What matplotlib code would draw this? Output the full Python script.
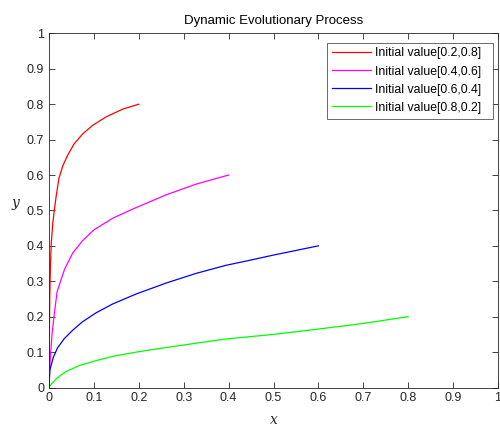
import matplotlib
matplotlib.use("Agg")
import matplotlib.pyplot as plt

# Curves
red_x = [0, 0.0008, 0.0015, 0.003, 0.0052, 0.0085, 0.0118, 0.0156, 0.022, 0.0305,
         0.0415, 0.056, 0.075, 0.097, 0.127, 0.164, 0.2]
red_y = [0, 0.12, 0.24, 0.34, 0.41, 0.465, 0.50, 0.537, 0.590, 0.625,
         0.656, 0.688, 0.716, 0.740, 0.764, 0.786, 0.80]

mag_x = [0, 0.0007, 0.003, 0.0067, 0.012, 0.018, 0.027, 0.035, 0.053, 0.075,
         0.1, 0.142, 0.194, 0.261, 0.327, 0.4]
mag_y = [0, 0.03, 0.085, 0.15, 0.21, 0.27, 0.305, 0.335, 0.38, 0.415,
         0.445, 0.478, 0.508, 0.544, 0.574, 0.60]

blue_x = [0, 0.002, 0.0096, 0.019, 0.034, 0.053, 0.075, 0.105, 0.142, 0.194,
          0.261, 0.327, 0.394, 0.45, 0.5, 0.55, 0.6]
blue_y = [0, 0.05, 0.085, 0.112, 0.138, 0.162, 0.186, 0.211, 0.236, 0.264,
          0.295, 0.322, 0.345, 0.36, 0.374, 0.387, 0.40]

green_x = [0, 0.0067, 0.019, 0.038, 0.067, 0.105, 0.142, 0.194, 0.261, 0.327,
           0.394, 0.5, 0.6, 0.7, 0.8]
green_y = [0, 0.012, 0.028, 0.045, 0.062, 0.076, 0.088, 0.100, 0.113, 0.125,
           0.137, 0.150, 0.165, 0.181, 0.20]

labels = ["Initial value[0.2,0.8]", "Initial value[0.4,0.6]",
          "Initial value[0.6,0.4]", "Initial value[0.8,0.2]"]
colors = ["#ff0000", "#ff00ff", "#0000ff", "#00ff00"]

ticks = [0, 0.1, 0.2, 0.3, 0.4, 0.5, 0.6, 0.7, 0.8, 0.9, 1]
tick_labels = ["0", "0.1", "0.2", "0.3", "0.4", "0.5", "0.6", "0.7", "0.8", "0.9", "1"]

plt.rcParams['font.family'] = ['Liberation Sans', 'DejaVu Sans']

fig = plt.figure(figsize=(5.0, 4.28), dpi=100)
ax = fig.add_axes([0.098, 0.0946, 0.898, 0.8275])

for xs, ys, c, lab in zip([red_x, mag_x, blue_x, green_x],
                          [red_y, mag_y, blue_y, green_y], colors, labels):
    ax.plot(xs, ys, color=c, lw=0.9, label=lab, solid_joinstyle='round')

ax.set_xlim(0, 1)
ax.set_ylim(0, 1)
ax.set_xticks(ticks)
ax.set_xticklabels(tick_labels)
ax.set_yticks(ticks)
ax.set_yticklabels(tick_labels)
ax.tick_params(direction='in', length=4, width=0.6, colors='#262626',
               labelsize=9, top=True, right=True)
for s in ax.spines.values():
    s.set_linewidth(0.6)
    s.set_color('#262626')

ax.set_title("Dynamic Evolutionary Process", fontsize=9.5, color='black', pad=7)
ax.set_xlabel("x", fontsize=10, family='DejaVu Serif', style='italic', color='#262626', labelpad=6)
ax.set_ylabel("y", fontsize=10, family='DejaVu Serif', style='italic', color='#262626',
              rotation=0, labelpad=8)

leg = ax.legend(loc='upper left', bbox_to_anchor=(0.619, 0.774, 0.370, 0.2),
                mode='expand', fontsize=8.8,
                frameon=True, fancybox=False, edgecolor='#262626',
                handlelength=3.2, handletextpad=0.35, labelspacing=0.5,
                borderpad=0.4, borderaxespad=0.0)
leg.get_frame().set_linewidth(0.6)

fig.savefig("out.png", dpi=100)
